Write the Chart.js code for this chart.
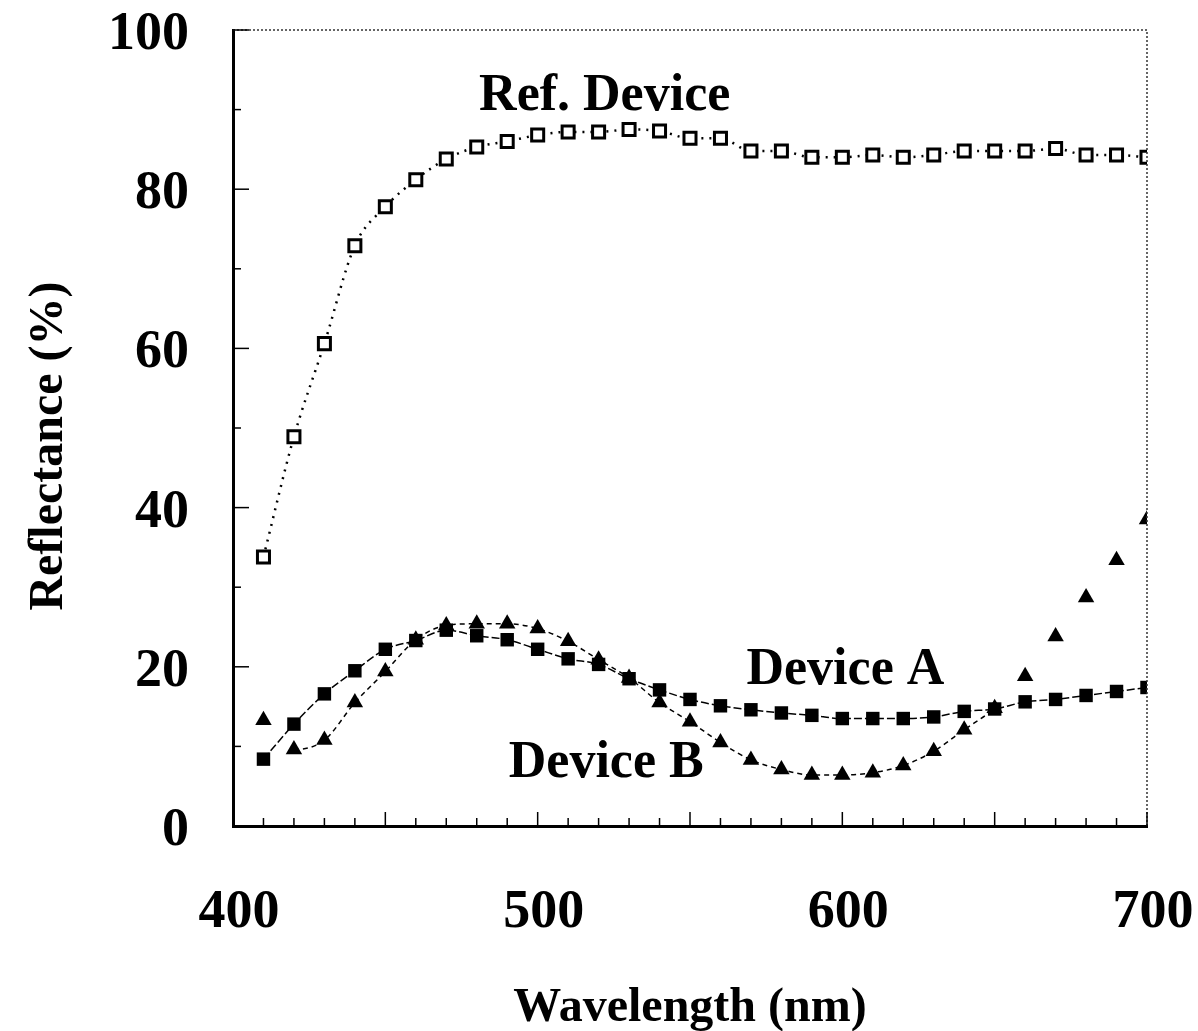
<!DOCTYPE html>
<html>
<head>
<meta charset="utf-8">
<script src="https://cdn.jsdelivr.net/npm/chart.js@4/dist/chart.umd.min.js"></script>
<style>
  html, body { margin: 0; padding: 0; background: #fff; }
  #wrap { width: 1198px; height: 1031px; }
</style>
</head>
<body>
<div id="wrap"><canvas id="c" width="1198" height="1031"></canvas></div>
<script>
const wavelengths = [410,420,430,440,450,460,470,480,490,500,510,520,530,540,550,560,570,580,590,600,610,620,630,640,650,660,670,680,690,700];
const refDevice = [33.8,48.9,60.6,72.9,77.8,81.2,83.8,85.3,86.0,86.8,87.2,87.2,87.5,87.3,86.4,86.4,84.8,84.8,84.0,84.0,84.3,84.0,84.3,84.8,84.8,84.8,85.1,84.3,84.3,84.0];
const deviceA = [8.4,12.8,16.6,19.5,22.2,23.3,24.6,23.9,23.4,22.2,21.0,20.3,18.5,17.1,15.9,15.1,14.6,14.2,13.9,13.5,13.5,13.5,13.7,14.4,14.7,15.6,15.9,16.4,16.9,17.4];
const deviceB = [13.3,9.6,10.8,15.5,19.4,23.4,25.2,25.4,25.4,24.8,23.2,20.9,18.6,15.5,13.1,10.5,8.3,7.1,6.4,6.4,6.7,7.6,9.4,12.1,14.8,18.8,23.8,28.7,33.4,38.5];
const xTicks = [400, 500, 600, 700];
const yTicks = [0, 20, 40, 60, 80, 100];
const xTitle = 'Wavelength (nm)';
const yTitle = 'Reflectance (%)';
const labels = [
  { text: 'Ref. Device', x: 522, y: 89.9 },
  { text: 'Device A', x: 601, y: 17.8 },
  { text: 'Device B', x: 522.5, y: 6.2 }
];
const lineStartB = 420;
const lineEndB = 650;

const SERIF = '"Liberation Serif", "Times New Roman", serif';
const pts = arr => wavelengths.map((w, i) => ({ x: w, y: arr[i] }));

const decor = {
  id: 'decor',
  afterDraw(chart) {
    const { ctx, chartArea: a, scales: { x, y } } = chart;
    ctx.save();
    ctx.strokeStyle = '#333';
    ctx.lineWidth = 1.5;
    ctx.setLineDash([2, 2]);
    ctx.beginPath();
    ctx.moveTo(a.left, a.top); ctx.lineTo(a.right, a.top); ctx.lineTo(a.right, a.bottom);
    ctx.stroke();
    ctx.setLineDash([]);
    ctx.strokeStyle = '#000';
    ctx.lineWidth = 1.5;
    for (let v = 400; v <= 700; v += 10) {
      const px = x.getPixelForValue(v);
      const len = v % 50 === 0 ? 14 : 8;
      ctx.beginPath(); ctx.moveTo(px, a.bottom); ctx.lineTo(px, a.bottom - len); ctx.stroke();
    }
    for (let v = 0; v <= 100; v += 10) {
      const py = y.getPixelForValue(v);
      const len = v % 20 === 0 ? 16 : 8;
      ctx.beginPath(); ctx.moveTo(a.left, py); ctx.lineTo(a.left + len, py); ctx.stroke();
    }
    ctx.fillStyle = '#000';
    ctx.font = 'bold 52px ' + SERIF;
    ctx.textAlign = 'center';
    ctx.textBaseline = 'alphabetic';
    labels.forEach(l => ctx.fillText(l.text, x.getPixelForValue(l.x), y.getPixelForValue(l.y)));
    ctx.font = 'bold 48px ' + SERIF;
    ctx.fillText(xTitle, (a.left + a.right) / 2, chart.height - 10);
    ctx.translate(62, 446);
    ctx.rotate(-Math.PI / 2);
    ctx.fillText(yTitle, 0, 0);
    ctx.restore();
  }
};

new Chart(document.getElementById('c'), {
  type: 'line',
  data: {
    datasets: [
      {
        label: 'Ref. Device',
        data: pts(refDevice),
        borderColor: '#000',
        borderWidth: 2.5,
        borderDash: [2, 6],
        cubicInterpolationMode: 'monotone',
        pointStyle: 'rect',
        pointRadius: 8.5,
        pointBorderWidth: 3,
        pointBorderColor: '#000',
        pointBackgroundColor: '#fff'
      },
      {
        label: 'Device A',
        data: pts(deviceA),
        borderColor: '#000',
        borderWidth: 1.5,
        borderDash: [8, 3],
        cubicInterpolationMode: 'monotone',
        pointStyle: 'rect',
        pointRadius: 9.5,
        pointBorderWidth: 0,
        pointBackgroundColor: '#000'
      },
      {
        label: 'Device B',
        data: pts(deviceB),
        borderColor: '#000',
        borderWidth: 1.5,
        borderDash: [5, 4],
        cubicInterpolationMode: 'monotone',
        segment: {
          borderColor: ctx => (ctx.p0.parsed.x < lineStartB || ctx.p0.parsed.x >= lineEndB ? 'rgba(0,0,0,0)' : '#000')
        },
        pointStyle: 'triangle',
        pointRadius: 9.5,
        pointBorderWidth: 0,
        pointBackgroundColor: '#000'
      }
    ]
  },
  options: {
    responsive: false,
    animation: false,
    events: [],
    layout: { padding: { top: 30, right: 51, left: 0, bottom: 0 } },
    plugins: { legend: { display: false }, tooltip: { enabled: false } },
    scales: {
      x: {
        type: 'linear',
        min: 400, max: 700,
        afterBuildTicks: s => { s.ticks = xTicks.map(v => ({ value: v })); },
        afterFit: s => { s.height = 205; s.paddingLeft = 0; s.paddingRight = 0; },
        grid: { display: false, drawTicks: false },
        border: { display: true, color: '#000', width: 3 },
        ticks: { color: '#000', padding: 55, labelOffset: 6, maxRotation: 0, autoSkip: false,
          font: { family: SERIF, size: 54, weight: 'bold' } },
        title: { display: false }
      },
      y: {
        min: 0, max: 100,
        afterBuildTicks: s => { s.ticks = yTicks.map(v => ({ value: v })); },
        afterFit: s => { s.width = 233; s.paddingTop = 0; s.paddingBottom = 0; },
        grid: { display: false, drawTicks: false },
        border: { display: true, color: '#000', width: 3 },
        ticks: { color: '#000', padding: 44, labelOffset: 5, autoSkip: false,
          font: { family: SERIF, size: 54, weight: 'bold' } },
        title: { display: false }
      }
    }
  },
  plugins: [decor]
});
</script>
</body>
</html>
